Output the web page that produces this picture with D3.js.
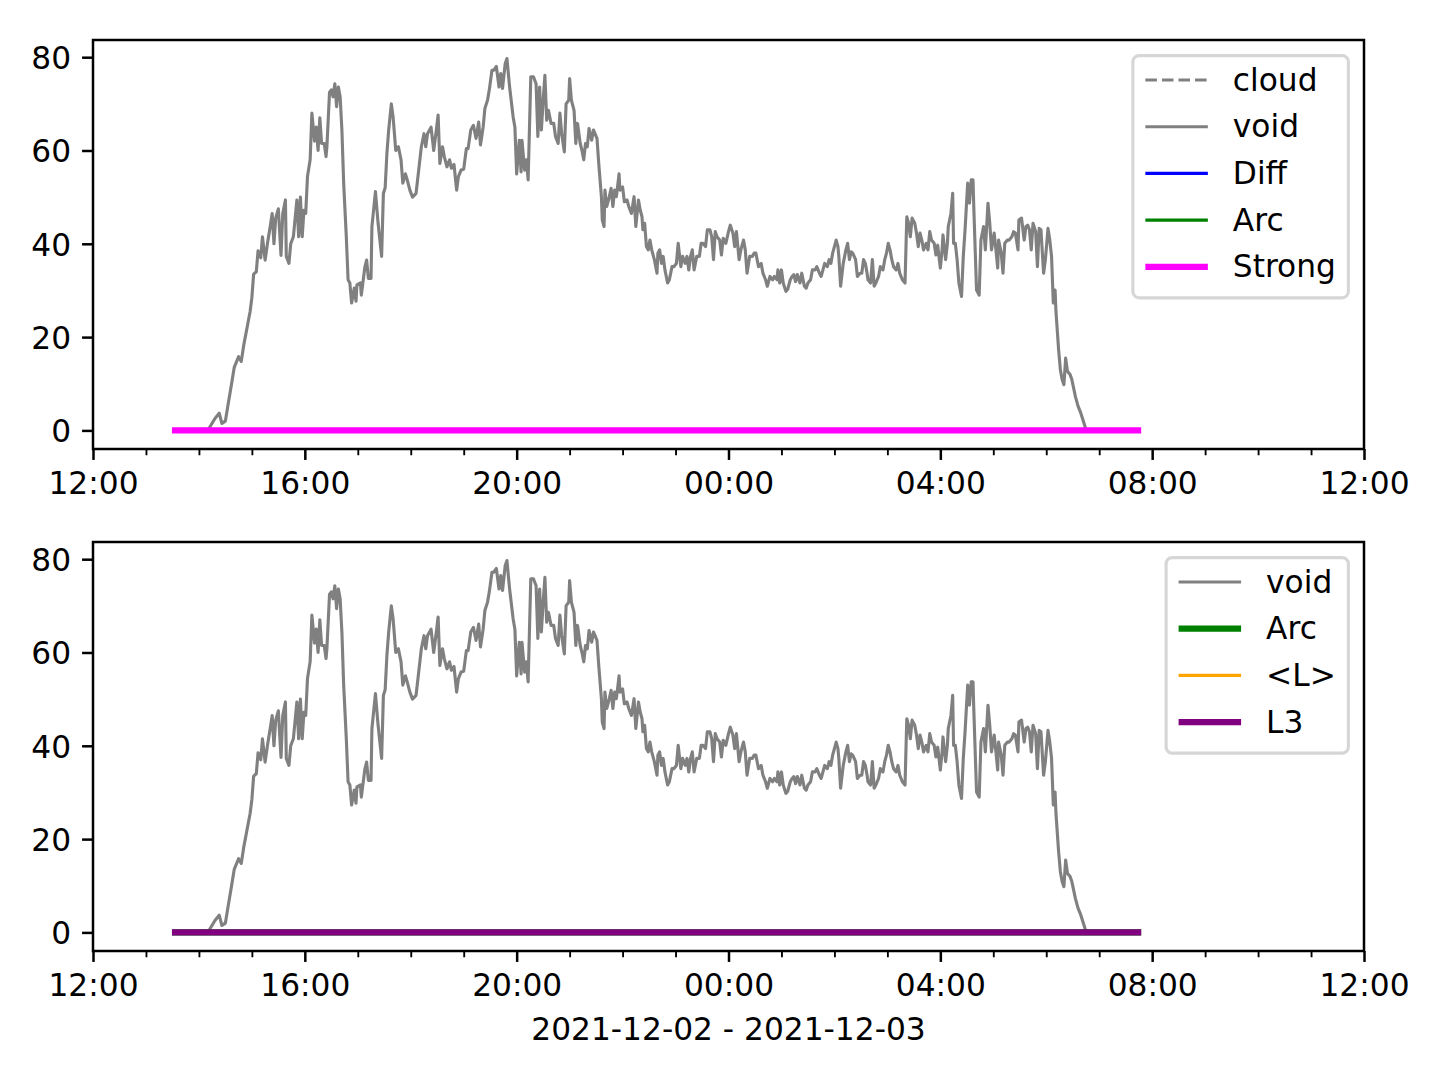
<!DOCTYPE html>
<html>
<head>
<meta charset="utf-8">
<script src="https://cdn.jsdelivr.net/npm/d3@7"></script>
<style>
html,body{margin:0;padding:0;background:#fff;}
text{font-family:"DejaVu Sans",sans-serif;}
</style>
</head>
<body>
<script>
// ---- DATA ----
const voidTimes = ["13:33","14:11","14:18","14:23","14:26","14:30","14:33","14:37","14:40","14:45","14:48","14:51","14:55","14:58","15:00","15:02","15:05","15:07","15:10","15:12","15:15","15:18","15:21","15:23","15:25","15:27","15:30","15:33","15:35","15:38","15:39","15:42","15:44","15:47","15:51","15:53","15:55","15:57","15:59","16:01","16:03","16:06","16:08","16:11","16:13","16:15","16:17","16:19","16:22","16:24","16:25","16:28","16:30","16:32","16:34","16:36","16:38","16:40","16:42","16:44","16:47","16:49","16:51","16:53","16:56","16:58","16:59","17:03","17:04","17:08","17:10","17:12","17:15","17:16","17:20","17:23","17:27","17:29","17:31","17:33","17:35","17:38","17:40","17:43","17:46","17:49","17:51","17:54","17:56","17:59","18:02","18:06","18:09","18:12","18:15","18:17","18:19","18:23","18:26","18:29","18:31","18:33","18:36","18:38","18:41","18:44","18:46","18:49","18:52","18:54","18:57","19:00","19:03","19:05","19:08","19:11","19:14","19:17","19:19","19:22","19:24","19:27","19:29","19:32","19:34","19:37","19:40","19:42","19:44","19:47","19:49","19:52","19:56","19:58","20:00","20:03","20:05","20:06","20:09","20:11","20:13","20:16","20:19","20:22","20:24","20:26","20:28","20:30","20:32","20:34","20:36","20:39","20:42","20:44","20:47","20:49","20:51","20:54","20:56","20:59","21:00","21:02","21:05","21:07","21:09","21:12","21:14","21:16","21:18","21:20","21:22","21:25","21:27","21:31","21:33","21:36","21:37","21:39","21:40","21:42","21:45","21:47","21:49","21:51","21:53","21:56","21:57","22:00","22:02","22:05","22:07","22:10","22:13","22:15","22:18","22:20","22:22","22:23","22:25","22:27","22:29","22:31","22:33","22:36","22:39","22:40","22:42","22:44","22:46","22:48","22:51","22:53","22:56","22:58","23:01","23:03","23:06","23:08","23:11","23:13","23:15","23:17","23:19","23:21","23:24","23:27","23:29","23:31","23:34","23:36","23:39","23:41","23:43","23:45","23:47","23:50","23:52","23:54","23:57","00:00","00:02","00:05","00:07","00:09","00:12","00:14","00:17","00:19","00:21","00:24","00:27","00:29","00:31","00:34","00:37","00:39","00:42","00:44","00:47","00:50","00:52","00:55","00:56","00:58","01:00","01:02","01:05","01:07","01:10","01:12","01:14","01:16","01:18","01:21","01:23","01:26","01:28","01:30","01:33","01:35","01:38","01:40","01:43","01:45","01:47","01:49","01:52","01:54","01:56","01:58","02:00","02:02","02:04","02:05","02:07","02:10","02:13","02:15","02:17","02:19","02:21","02:24","02:26","02:29","02:31","02:33","02:35","02:37","02:38","02:41","02:43","02:45","02:47","02:50","02:52","02:55","02:57","02:59","03:01","03:03","03:05","03:07","03:10","03:12","03:14","03:17","03:20","03:22","03:24","03:26","03:28","03:31","03:33","03:35","03:37","03:39","03:41","03:44","03:46","03:48","03:50","03:53","03:55","03:57","04:00","04:02","04:03","04:06","04:08","04:09","04:12","04:14","04:15","04:17","04:19","04:21","04:24","04:26","04:28","04:31","04:33","04:35","04:37","04:38","04:41","04:44","04:46","04:49","04:51","04:54","04:56","04:58","05:01","05:03","05:05","05:06","05:09","05:11","05:13","05:16","05:18","05:21","05:23","05:25","05:28","05:29","05:32","05:35","05:37","05:39","05:41","05:43","05:45","05:48","05:50","05:52","05:54","05:57","05:59","06:02","06:04","06:06","06:08","06:10","06:11","06:14","06:16","06:18","06:20","06:22","06:24","06:27","06:29","06:33","06:36","06:39","06:42","06:45","06:47","07:44"];
const voidValues = [0,0.3,2.5,3.7,1.5,2,5.5,10,13.5,15.8,14.8,18.5,22.5,25.5,28.5,33.5,34,38.5,37,41.5,36.5,40.5,44,46.5,40,45.5,47.5,37.5,46.5,49.4,37.3,35.8,40,41.5,49.4,41.5,50,41.5,47.2,46.5,54.4,58,68,62,65,60,67,61.5,61.5,58.7,60.8,72.5,73,71.5,74.3,69.4,73.6,71.5,64.4,53,41.5,32.3,31.6,27.3,30.5,27.7,31.2,31.6,29,35,36.5,32.6,32.6,43.7,51.2,44.4,37.3,50.8,52,59.4,64.4,70,67.2,60,60.8,58,53,55,53.7,51.5,50,50.8,55.8,60.8,63.6,60.8,63.6,65,60,64.4,67.6,57.2,60.8,58.7,56.5,58,56.2,57,51.5,54.4,55.8,56,60.4,60.4,64.4,65.4,62.6,66.1,61.2,65,69,70.8,73,77.2,77.2,78,73.6,76.5,73.3,78.6,79.7,73.6,67.2,65,55,62.2,55.4,62.2,55.8,58,53.7,75.8,75.8,74.3,63,73.6,64.4,70.8,76.1,66.5,68.6,65.8,65.8,63,61.5,68,63.6,59.7,70,70.8,75.4,70.8,68.6,61.5,65.8,61.5,60,58,61.5,60.8,64.7,62.2,64.4,62.6,57.2,50.1,45.1,43.7,51.5,48,50.1,51.9,48,51.5,50.1,55,51.5,52.2,49,49.4,48,46.5,50.1,43.7,49.4,47.2,45.8,43,44.4,39.4,38.7,40.8,38.7,36.6,33.7,38,38.7,35.8,37.3,34.4,31.6,32.3,35.1,35.1,35.8,40.1,35.1,37.3,35.8,37.3,34.4,37.3,38.7,34.4,37.3,37.3,40.1,40.1,39.4,43,43,41.5,36.6,42.6,41.5,40.8,37.6,41.2,40.1,42.6,44,42.3,39.4,42.6,36.6,38.7,40.8,38.7,33.7,37.3,37.3,38,38,35.1,35.8,33.7,32.3,30.9,33,32.3,33,32.3,34.4,31.6,34.4,31.6,29.8,30.2,32.3,33,33.4,31.9,33.4,31.6,33.7,30.9,30.5,31.6,32.3,34.4,34.4,35.1,33.7,33,34.4,35.8,35.1,36.6,35.8,38,39.4,40.8,39.4,37.3,30.9,35.8,38.7,40.1,36.6,38.3,37.9,36.6,33,33.7,33.7,36.6,35.8,33.7,32.3,31.6,36.6,30.9,31.6,33,35.1,34.4,36.6,38,40.1,38.7,36.6,35.1,34.4,35.8,33.7,32.3,31.6,45.8,44.4,41.5,45.5,44.4,42.3,39.4,42.3,40.8,38.7,40.1,38.7,42.6,40.8,40.1,37.6,39.7,34.8,38.7,41.9,36.6,40.1,43.7,46.5,50.8,40.1,40.1,36.6,31.6,28.7,37.3,43,53,48.7,53.7,53.7,47.3,30.1,29,40.8,43.7,38.7,48.7,44.4,38.7,42.3,38.7,34.8,40.8,38,33.7,40.1,40.8,40.8,41.5,42.6,42.3,38.7,45.1,45.5,40.8,43.7,44,43,38.7,44.4,42.6,35.1,43.3,43,33.7,36.6,43.3,40.8,37.3,27.3,30.1,25.5,17.3,13,10.9,9.8,15.5,12.7,12,10.9,7.3,5.2,3.8,2,0.2,0,0];
// zero-valued series spanning the same period
const flatTimes = ["13:33","07:44"];
const cloudValues = [0,0];
const diffValues = [0,0];
const arcValues = [0,0];
const strongValues = [0,0];
const meanLValues = [0,0];
const l3Values = [0,0];
const yTicks = [0,20,40,60,80];
const xLabel = "2021-12-02 - 2021-12-03";

// ---- helpers ----
function toDate(s){
  const [h,m] = s.split(":").map(Number);
  return new Date(2021, 11, h < 12 ? 3 : 2, h, m);
}
function zip(times, vals){ return times.map((t,i)=>({t:toDate(t), v:vals[i]})); }

const W = 1440, H = 1080, PT = 225/72;
const FS = 10*PT;
const svg = d3.select("body").append("svg").attr("width",W).attr("height",H)
  .style("display","block");
svg.append("rect").attr("width",W).attr("height",H).attr("fill","#fff");

const left = 93, right = 1364;
const x = d3.scaleTime()
  .domain([new Date(2021,11,2,12,0), new Date(2021,11,3,12,0)])
  .range([left, right]);
const fmt = d3.timeFormat("%H:%M");
const majorTicks = d3.timeHour.every(4).range(x.domain()[0], new Date(2021,11,3,12,1));
const minorTicks = d3.timeHour.every(1).range(x.domain()[0], new Date(2021,11,3,12,1))
  .filter(d => d.getHours() % 4 !== 0);

function panel(idx, top, bottom, series, legendItems){
  const y = d3.scaleLinear().domain([-3.985, 83.685]).range([bottom, top]);
  const g = svg.append("g");
  const clipId = "clip"+idx;
  g.append("clipPath").attr("id",clipId).append("rect")
    .attr("x",left).attr("y",top).attr("width",right-left).attr("height",bottom-top);
  const line = d3.line().x(d=>x(d.t)).y(d=>y(d.v));
  const lg = g.append("g").attr("clip-path",`url(#${clipId})`);
  series.forEach(s=>{
    lg.append("path").datum(s.data).attr("d",line)
      .attr("fill","none").attr("stroke",s.color).attr("stroke-width",s.lw*PT)
      .attr("stroke-linejoin","round").attr("stroke-linecap","square")
      .attr("stroke-dasharray", s.dash ? s.dash.map(v=>v*PT).join(",") : null);
  });
  // x axis major
  const xa = g.append("g").attr("transform",`translate(0,${bottom})`)
    .call(d3.axisBottom(x).tickValues(majorTicks).tickFormat(fmt)
      .tickSize(3.5*PT).tickPadding(11.4));
  xa.select(".domain").remove();
  xa.selectAll(".tick line").attr("stroke","#000").attr("stroke-width",0.8*PT);
  xa.selectAll(".tick text").attr("font-size",FS).attr("fill","#000")
    .attr("font-family","DejaVu Sans");
  const xm = g.append("g").attr("transform",`translate(0,${bottom})`)
    .call(d3.axisBottom(x).tickValues(minorTicks).tickFormat("").tickSize(2*PT));
  xm.select(".domain").remove();
  xm.selectAll(".tick line").attr("stroke","#000").attr("stroke-width",0.6*PT);
  // y axis
  const ya = g.append("g").attr("transform",`translate(${left},0)`)
    .call(d3.axisLeft(y).tickValues(yTicks).tickFormat(d3.format("d"))
      .tickSize(3.5*PT).tickPadding(3.5*PT));
  ya.select(".domain").remove();
  ya.selectAll(".tick line").attr("stroke","#000").attr("stroke-width",0.8*PT);
  ya.selectAll(".tick text").attr("font-size",FS).attr("fill","#000")
    .attr("dy","0.365em").attr("font-family","DejaVu Sans");
  // spines
  g.append("rect").attr("x",left).attr("y",top).attr("width",right-left).attr("height",bottom-top)
    .attr("fill","none").attr("stroke","#000").attr("stroke-width",0.8*PT);
  // legend
  const leg = g.append("g");
  const boxRight = right - 0.5*FS, boxTop = top + 0.5*FS;
  const tmp = leg.append("g");
  let maxW = 0;
  legendItems.forEach(it=>{
    const t = tmp.append("text").attr("font-size",FS).text(it.label);
    maxW = Math.max(maxW, t.node().getComputedTextLength());
  });
  tmp.remove();
  const pad = 0.4*FS, hl = 2*FS, htp = 0.8*FS, pitch = 46.7;
  const boxW = pad + hl + htp + maxW + pad;
  const boxLeft = boxRight - boxW;
  const boxH = 24.4 + pitch*(legendItems.length-1) + 31;
  leg.append("rect").attr("x",boxLeft).attr("y",boxTop).attr("width",boxW).attr("height",boxH)
    .attr("rx",0.2*FS).attr("ry",0.2*FS)
    .attr("fill","#fff").attr("fill-opacity",0.8)
    .attr("stroke","#cccccc").attr("stroke-opacity",0.8).attr("stroke-width",1*PT);
  legendItems.forEach((it,i)=>{
    const cy = boxTop + 24.4 + i*pitch;
    leg.append("line").attr("x1",boxLeft+pad).attr("x2",boxLeft+pad+hl)
      .attr("y1",cy).attr("y2",cy).attr("stroke",it.color).attr("stroke-width",it.lw*PT)
      .attr("stroke-dasharray", it.dash ? it.dash.map(v=>v*PT).join(",") : null);
    leg.append("text").attr("x",boxLeft+pad+hl+htp).attr("y",cy+10.5)
      .attr("font-size",FS).attr("fill","#000").text(it.label);
  });
}

const voidData = zip(voidTimes, voidValues);
const topSeries = [
  {label:"cloud", data:zip(flatTimes,cloudValues), color:"#808080", lw:1, dash:[3.7,1.6]},
  {label:"void", data:voidData, color:"#808080", lw:1},
  {label:"Diff", data:zip(flatTimes,diffValues), color:"#0000ff", lw:1},
  {label:"Arc", data:zip(flatTimes,arcValues), color:"#008000", lw:1},
  {label:"Strong", data:zip(flatTimes,strongValues), color:"#ff00ff", lw:2}
];
const botSeries = [
  {label:"void", data:voidData, color:"#808080", lw:1},
  {label:"Arc", data:zip(flatTimes,arcValues), color:"#008000", lw:2},
  {label:"<L>", data:zip(flatTimes,meanLValues), color:"#ffa500", lw:1},
  {label:"L3", data:zip(flatTimes,l3Values), color:"#800080", lw:2}
];
panel(0, 40, 449, topSeries, topSeries);
panel(1, 542, 951, botSeries, botSeries);

svg.append("text").attr("x",(left+right)/2).attr("y",1040).attr("text-anchor","middle")
  .attr("font-size",FS).attr("fill","#000").text(xLabel);
</script>
</body>
</html>
